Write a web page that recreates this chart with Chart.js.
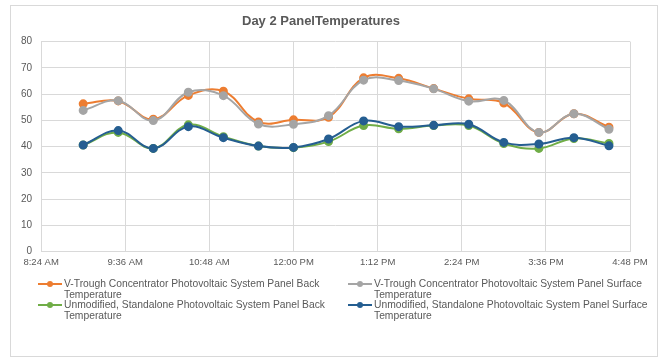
<!DOCTYPE html>
<html>
<head>
<meta charset="utf-8">
<script src="https://cdn.jsdelivr.net/npm/chart.js@4"></script>
<style>
  html, body { margin: 0; padding: 0; background: #fff; }
  #wrap { position: relative; width: 662px; height: 359px; font-family: 'Liberation Sans', Arial, sans-serif; }
  #frame { position: absolute; left: 10px; top: 5px; width: 648px; height: 352px; border: 1px solid #d9d9d9; box-sizing: border-box; }
  #myChart { position: absolute; left: 0; top: 0; }
  .leg { position: absolute; font-size: 10.3px; line-height: 11px; color: #595959; }
  .leg .mark { position: absolute; left: 0; top: 5px; width: 24px; height: 2px; }
  .leg .dot { position: absolute; left: 9px; top: -2px; width: 6px; height: 6px; border-radius: 50%; }
  .leg .txt { position: absolute; left: 26px; top: 0; white-space: nowrap; }
</style>
</head>
<body>
<div id="wrap">
  <div id="frame"></div>
  <canvas id="myChart" width="662" height="359"></canvas>
  <div id="legend"></div>
</div>
<script>
// horas das medições (dia 2)
const times = ['9:00', '9:30', '10:00', '10:30', '11:00', '11:30', '12:00', '12:30',
               '13:00', '13:30', '14:00', '14:30', '15:00', '15:30', '16:00', '16:30'];

const vtroughBack =    [56.3, 57.4, 50.4, 59.5, 61.1, 49.4, 50.2, 51.2, 66.2, 66.0, 62.1, 58.2, 56.6, 45.4, 52.5, 47.4];
const vtroughSurface = [53.8, 57.5, 49.9, 60.7, 59.4, 48.6, 48.5, 51.8, 65.3, 65.2, 62.0, 57.3, 57.6, 45.4, 52.5, 46.6];
const standBack =      [40.6, 45.4, 39.3, 48.3, 43.8, 40.2, 39.6, 41.9, 48.0, 46.8, 48.0, 48.0, 41.2, 39.3, 43.1, 41.2];
const standSurface =   [40.6, 46.1, 39.3, 47.6, 43.4, 40.2, 39.7, 42.9, 49.8, 47.6, 48.1, 48.5, 41.6, 41.0, 43.4, 40.3];

const xTickLabels = ['8:24 AM', '9:36 AM', '10:48 AM', '12:00 PM', '1:12 PM', '2:24 PM', '3:36 PM', '4:48 PM'];
const yTicks = [0, 10, 20, 30, 40, 50, 60, 70, 80];

function toMinutes(t) {
    const p = t.split(':');
    return Number(p[0]) * 60 + Number(p[1]);
}

function points(values) {
    return values.map((v, i) => ({ x: toMinutes(times[i]), y: v }));
}

const series = [
    { label: 'V-Trough Concentrator Photovoltaic System Panel Back Temperature', data: vtroughBack, color: '#ED7D31', order: 3 },
    { label: 'V-Trough Concentrator Photovoltaic System Panel Surface Temperature', data: vtroughSurface, color: '#A5A5A5', order: 2 },
    { label: 'Unmodified, Standalone Photovoltaic System Panel Back Temperature', data: standBack, color: '#70AD47', order: 1 },
    { label: 'Unmodified, Standalone Photovoltaic System Panel Surface Temperature', data: standSurface, color: '#255E91', order: 0 }
];

Chart.defaults.font.family = "'Liberation Sans', Arial, sans-serif";
Chart.defaults.color = '#595959';

const xMin = toMinutes('8:24');
const step = 72;

new Chart(document.getElementById('myChart'), {
    type: 'line',
    data: {
        datasets: series.map(s => ({
            label: s.label,
            data: points(s.data),
            borderColor: s.color,
            backgroundColor: s.color,
            borderWidth: 2,
            pointRadius: 3.5,
            pointHoverRadius: 3.5,
            tension: 0.4,
            order: s.order
        }))
    },
    options: {
        responsive: false,
        animation: false,
        layout: { padding: { left: 12, right: 32, top: 0, bottom: 86 } },
        plugins: {
            legend: { display: false },
            tooltip: { enabled: false },
            title: {
                display: true,
                text: 'Day 2 PanelTemperatures',
                color: '#595959',
                font: { size: 13, weight: 'bold' },
                padding: { top: 14, bottom: 12 }
            }
        },
        scales: {
            x: {
                type: 'linear',
                min: xMin,
                max: xMin + step * (xTickLabels.length - 1),
                afterBuildTicks: axis => {
                    axis.ticks = xTickLabels.map((l, i) => ({ value: xMin + step * i }));
                },
                ticks: {
                    callback: (v, i) => xTickLabels[i],
                    font: { size: 9.5 },
                    padding: 5,
                    maxRotation: 0,
                    autoSkip: false
                },
                grid: { color: '#d9d9d9', drawTicks: false },
                border: { color: '#d9d9d9' }
            },
            y: {
                min: yTicks[0],
                max: yTicks[yTicks.length - 1],
                afterBuildTicks: axis => {
                    axis.ticks = yTicks.map(v => ({ value: v }));
                },
                ticks: { font: { size: 10 }, padding: 9 },
                grid: { color: '#d9d9d9', drawTicks: false },
                border: { display: false }
            }
        }
    }
});

// legenda em HTML (duas colunas, texto quebrado antes de "Temperature")
const legendPos = [[38, 278], [348, 278], [38, 299], [348, 299]];
const legend = document.getElementById('legend');
series.forEach((s, i) => {
    const words = s.label.split(' ');
    const last = words.pop();
    const item = document.createElement('div');
    item.className = 'leg';
    item.style.left = legendPos[i][0] + 'px';
    item.style.top = legendPos[i][1] + 'px';
    item.innerHTML = '<div class="mark" style="background:' + s.color + '"><div class="dot" style="background:' + s.color + '"></div></div>' +
        '<div class="txt">' + words.join(' ') + '<br>' + last + '</div>';
    legend.appendChild(item);
});
</script>
</body>
</html>
